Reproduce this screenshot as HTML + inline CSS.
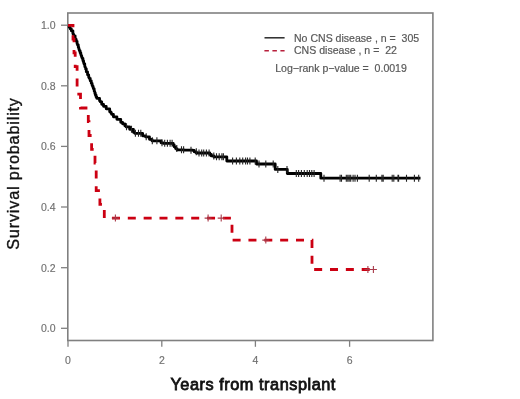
<!DOCTYPE html>
<html><head><meta charset="utf-8"><style>
html,body{margin:0;padding:0;background:#fff;}
body{width:520px;height:399px;overflow:hidden;}
svg{display:block;filter:blur(0.3px);}
text{font-family:"Liberation Sans",sans-serif;}
.tk{font-size:10.5px;fill:#707070;stroke:#707070;stroke-width:0.15px;}
.lg{font-size:10.55px;fill:#585858;stroke:#585858;stroke-width:0.2px;}
.at{font-size:16.3px;font-weight:normal;fill:#111;stroke:#111;stroke-width:0.8px;}
</style></head><body>
<svg width="520" height="399" viewBox="0 0 520 399">
<rect x="67.8" y="13" width="365.1" height="327.5" fill="none" stroke="#808080" stroke-width="1.6"/>
<line x1="61" y1="25.2" x2="67.8" y2="25.2" stroke="#808080" stroke-width="1.3"/>
<text x="55.5" y="29.2" text-anchor="end" class="tk">1.0</text>
<line x1="61" y1="85.8" x2="67.8" y2="85.8" stroke="#808080" stroke-width="1.3"/>
<text x="55.5" y="89.8" text-anchor="end" class="tk">0.8</text>
<line x1="61" y1="146.4" x2="67.8" y2="146.4" stroke="#808080" stroke-width="1.3"/>
<text x="55.5" y="150.4" text-anchor="end" class="tk">0.6</text>
<line x1="61" y1="207.0" x2="67.8" y2="207.0" stroke="#808080" stroke-width="1.3"/>
<text x="55.5" y="211.0" text-anchor="end" class="tk">0.4</text>
<line x1="61" y1="267.7" x2="67.8" y2="267.7" stroke="#808080" stroke-width="1.3"/>
<text x="55.5" y="271.7" text-anchor="end" class="tk">0.2</text>
<line x1="61" y1="328.3" x2="67.8" y2="328.3" stroke="#808080" stroke-width="1.3"/>
<text x="55.5" y="332.3" text-anchor="end" class="tk">0.0</text>
<line x1="68" y1="340.5" x2="68" y2="346.8" stroke="#808080" stroke-width="1.3"/>
<text x="68" y="363.6" text-anchor="middle" class="tk">0</text>
<line x1="161.8" y1="340.5" x2="161.8" y2="346.8" stroke="#808080" stroke-width="1.3"/>
<text x="161.8" y="363.6" text-anchor="middle" class="tk">2</text>
<line x1="255.4" y1="340.5" x2="255.4" y2="346.8" stroke="#808080" stroke-width="1.3"/>
<text x="255.4" y="363.6" text-anchor="middle" class="tk">4</text>
<line x1="349.6" y1="340.5" x2="349.6" y2="346.8" stroke="#808080" stroke-width="1.3"/>
<text x="349.6" y="363.6" text-anchor="middle" class="tk">6</text>
<path d="M68 25.3 H69.25 V27.3 H70.17 V28.8 H71.31 V30.8 H72.9 V33.8 H73.4 V34.8 H73.9 V35.8 H75.11 V38.3 H75.46 V39.3 H76.18 V41.3 H77.07 V43.8 H77.43 V44.8 H78.27 V47.3 H78.77 V48.8 H79.1 V49.8 H79.43 V50.8 H80.11 V52.8 H80.82 V54.8 H81.18 V55.8 H81.71 V57.3 H82.07 V58.3 H82.93 V60.8 H83.6 V62.8 H83.93 V63.8 H84.73 V66.3 H85.01 V67.3 H85.44 V68.8 H86.3 V71.8 H87.55 V74.8 H88.69 V77.3 H89.14 V78.3 H90.22 V80.8 H91.26 V83.3 H92.08 V85.3 H92.5 V86.3 H93.12 V87.8 H93.44 V88.8 H94.19 V91.3 H94.64 V92.8 H95.24 V94.8 H96.0 V96.8 H96.75 V98.3 H99.55 V100.8 H100.26 V101.8 H101.71 V104.3 H103.54 V106.3 H106.2 V108.8 H109.69 V111.8 H111.0 V113.3 H111.62 V114.3 H113.42 V116.8 H116.9 V119.3 H120.74 V122.3 H122.57 V123.8 H124.86 V125.8 H126.0 V126.8 H129.64 V129.3 H133.44 V132.3 H134.77 V133.3 H142.6 V135.8 H145.51 V136.8 H149.46 V139.3 H152.0 V140.8 H161.03 V142.8 H163.1 V143.3 H173.2 V145 H174.2 V146.8 H175.6 V148.6 H177 V149.8 H184 V150.2 H192.8 V150.4 H194.2 V151.8 H196.3 V153 H209.8 V153.2 V154.5 H211.3 V155.9 H213.8 V156.8 H226.8 V157.2 V161 H256.5 V164 H275.2 V169.4 H287.3 V173.5 H320.8 V178.2 H420.5" fill="none" stroke="#000" stroke-width="2.8" stroke-linejoin="round"/>
<path d="M126.5 123.3V130.3 M131.5 125.8V132.8 M135.4 129.8V136.8 M138.5 129.8V136.8 M140.8 129.8V136.8 M146.2 133.3V140.3 M152.3 137.3V144.3 M156.9 137.3V144.3 M162 139.3V146.3 M164.7 139.8V146.8 M167.4 139.8V146.8 M170.1 139.8V146.8 M172.1 139.8V146.8 M176.8 145.1V152.1 M181.5 146.3V153.3 M183.6 146.3V153.3 M191 146.7V153.7 M196.3 148.3V155.3 M199 149.5V156.5 M201.7 149.5V156.5 M203.7 149.5V156.5 M206.4 149.5V156.5 M209.1 149.5V156.5 M213.8 152.4V159.4 M216.5 153.3V160.3 M219.2 153.3V160.3 M221.9 153.3V160.3 M223.4 153.3V160.3 M232.6 157.5V164.5 M236.4 157.5V164.5 M239.8 157.5V164.5 M242.7 157.5V164.5 M245.6 157.5V164.5 M247.5 157.5V164.5 M249.9 157.5V164.5 M255.2 157.5V164.5 M259 160.5V167.5 M265.8 160.5V167.5 M273.2 160.5V167.5 M277.8 165.9V172.9 M287 165.9V172.9 M296.3 170.0V177.0 M298.6 170.0V177.0 M301.4 170.0V177.0 M304.3 170.0V177.0 M307.2 170.0V177.0 M309.5 170.0V177.0 M311.8 170.0V177.0 M314.1 170.0V177.0 M324 174.7V181.7 M340.1 174.7V181.7 M341.5 174.7V181.7 M346.3 174.7V181.7 M347.8 174.7V181.7 M349.2 174.7V181.7 M350.7 174.7V181.7 M353.1 174.7V181.7 M355 174.7V181.7 M357.4 174.7V181.7 M369.2 174.7V181.7 M376.3 174.7V181.7 M381.9 174.7V181.7 M383.2 174.7V181.7 M392.2 174.7V181.7 M393.8 174.7V181.7 M398 174.7V181.7 M398.6 174.7V181.7 M406.5 174.7V181.7 M414.4 174.7V181.7 M418.7 174.7V181.7" stroke="#222" stroke-width="1.1" fill="none"/>
<path d="M68 25.3 H73 V39.1 H74 V52.9 H75.2 V66.6 H77.1 V94.2 H80.5 V108 H88.3 V121.7 H89 V135.5 H91.6 V149.3 H95 V163.1 H96.2 V190.6 H99.9 V204.4 H104.3 V218.1 H232 V240.1 H312 V269.5 H374" fill="none" stroke="#cc0012" stroke-width="2.8" stroke-dasharray="8 7.85" stroke-dashoffset="1"/>
<path d="M111.9 218.1H118.9M115.4 214.6V221.6 M204.6 218.1H211.6M208.1 214.6V221.6 M217.7 218.1H224.7M221.2 214.6V221.6 M262.3 240.1H269.3M265.8 236.6V243.6 M364.4 269.5H371.4M367.9 266.0V273.0 M369.9 269.5H376.9M373.4 266.0V273.0" stroke="#a83a4a" stroke-width="1.1" fill="none"/>
<line x1="264.5" y1="37.8" x2="284.6" y2="37.8" stroke="#2a2a2a" stroke-width="1.5"/>
<line x1="264.3" y1="50.8" x2="284.6" y2="50.8" stroke="#b8203c" stroke-width="1.6" stroke-dasharray="4.5 3.5" stroke-dashoffset="-0.1"/>
<text x="294" y="41.7" class="lg">No CNS disease , n =&#160; 305</text>
<text x="294" y="54.4" class="lg">CNS disease , n =&#160; 22</text>
<text x="275.2" y="72" class="lg">Log&#8722;rank p&#8722;value =&#160; 0.0019</text>
<text x="253.2" y="390.4" text-anchor="middle" class="at" style="letter-spacing:0.54px">Years from transplant</text>
<text transform="translate(19.4 173.5) rotate(-90)" text-anchor="middle" class="at" style="letter-spacing:0.8px;stroke-width:0.35px">Survival probability</text>
</svg>
</body></html>
